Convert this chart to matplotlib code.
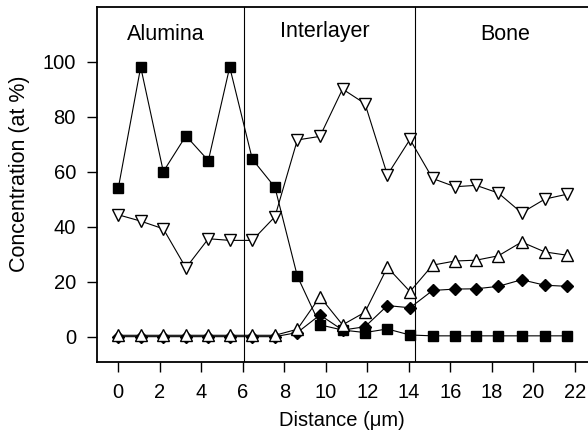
import matplotlib
matplotlib.use("Agg")
import matplotlib.pyplot as plt

plt.rcParams['font.family'] = ['Liberation Sans', 'DejaVu Sans']

distance = [0, 1.08, 2.17, 3.26, 4.34, 5.37, 6.46, 7.55, 8.63, 9.72, 10.81,
            11.89, 12.97, 14.06, 15.15, 16.23, 17.25, 18.32, 19.44, 20.56, 21.64]
squares = [54, 98, 60, 73, 64, 98, 64.5, 54.3, 22, 4.3, 2.4,
           1.5, 2.8, 0.6, 0.3, 0.3, 0.3, 0.3, 0.3, 0.3, 0.3]
down_tri = [44.3, 42, 39.2, 25, 35.6, 35, 35, 43.6, 71.5, 72.8, 90,
            84.7, 58.8, 71.7, 57.5, 54.5, 55, 52.2, 45, 50, 51.8]
up_tri = [0.5, 0.5, 0.5, 0.5, 0.5, 0.5, 0.5, 0.5, 2.7, 14.5, 4.3,
          8.9, 25.2, 16.4, 26, 27.5, 27.8, 29.4, 34.4, 30.8, 29.6]
diamonds = [0, 0, 0, 0, 0, 0, 0, 0, 1.5, 7.9, 2.4,
            3.6, 11.3, 10.5, 16.8, 17.3, 17.4, 18.3, 20.7, 18.7, 18.3]

boundaries = [6.07, 14.3]
regions = ["Alumina", "Interlayer", "Bone"]
region_x = [2.27, 9.96, 18.65]
region_y = [110, 111, 110]

xticks = list(range(0, 23, 2))
yticks = list(range(0, 101, 20))

fig = plt.figure(figsize=(5.88, 4.36), dpi=100)
ax = fig.add_axes([0.1645, 0.1704, 0.8355, 0.814])

lw = 0.8
ax.plot(distance, diamonds, color='black', lw=lw, marker='D', ms=6.5,
        mfc='black', mec='black', zorder=3)
ax.plot(distance, squares, color='black', lw=lw, marker='s', ms=7,
        mfc='black', mec='black', zorder=4)
ax.plot(distance, up_tri, color='black', lw=lw, marker='^', ms=9,
        mfc='white', mec='black', mew=1.0, zorder=5)
ax.plot(distance, down_tri, color='black', lw=lw, marker='v', ms=9,
        mfc='white', mec='black', mew=1.0, zorder=5)

for b in boundaries:
    ax.axvline(b, color='black', lw=0.8, zorder=2)

for name, rx, ry in zip(regions, region_x, region_y):
    ax.text(rx, ry, name, ha='center', va='center', fontsize=15.5)

ax.set_xlim(-1.04, 22.64)
ax.set_ylim(-9.1, 119.9)
ax.set_xticks(xticks)
ax.set_yticks(yticks)
ax.tick_params(axis='both', direction='out', length=7, width=1,
               labelsize=14.5, pad=8)
ax.spines['right'].set_visible(False)
for s in ['left', 'bottom', 'top']:
    ax.spines[s].set_linewidth(1.3)

ax.set_xlabel('Distance (\u03bcm)', fontsize=14.5, labelpad=7)
ax.set_ylabel('Concentration (at %)', fontsize=15.5)
ax.yaxis.set_label_coords(-0.135, 0.53)

fig.savefig('out.png', dpi=100)
